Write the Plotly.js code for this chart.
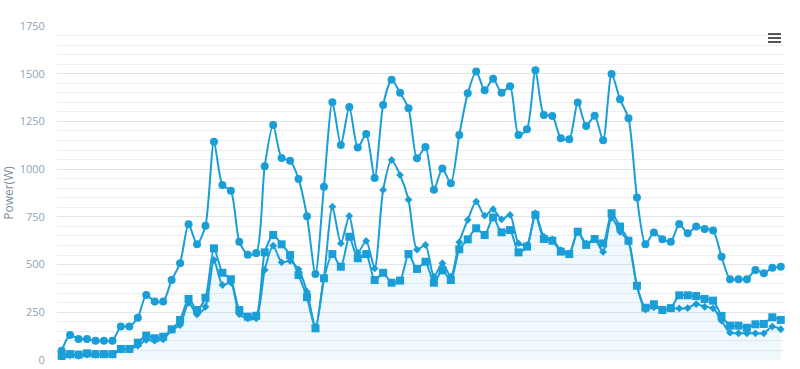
<!DOCTYPE html>
<html>
<head>
<meta charset="utf-8">
<script src="https://cdn.plot.ly/plotly-3.0.1.min.js"></script>
<style>html,body{margin:0;padding:0;background:#fff;}#chart{width:800px;height:369px;}</style>
</head>
<body>
<div id="chart"></div>
<script>
const seriesTop = [49,131,110,110,101,101,101,175,175,222,340,306,306,419,507,711,606,704,1144,917,887,620,552,560,1015,1231,1058,1044,948,753,451,908,1350,1127,1326,1113,1184,953,1336,1468,1400,1319,1057,1116,892,1004,926,1179,1397,1512,1413,1473,1400,1434,1179,1209,1518,1284,1279,1162,1156,1349,1226,1280,1151,1499,1366,1266,852,606,668,633,620,712,664,699,686,678,541,423,423,423,472,454,484,489];
const seriesMid = [4,25,22,28,28,28,28,55,55,75,105,101,108,157,183,300,239,279,524,393,405,240,218,218,472,599,512,519,475,358,175,430,803,611,755,562,624,480,891,1048,969,840,578,603,437,507,437,617,734,830,756,790,737,760,611,603,769,646,632,576,559,672,611,634,566,745,672,622,387,264,276,267,270,270,272,293,279,271,206,143,140,140,140,140,175,161];
const seriesLow = [26,31,28,35,31,31,31,58,58,91,128,114,122,161,210,320,262,326,585,457,423,262,227,232,564,655,606,550,445,329,166,428,555,489,646,533,555,419,457,405,416,555,477,515,405,470,419,580,632,690,655,747,669,681,564,594,760,634,625,568,555,672,603,634,611,769,699,625,389,274,292,262,272,339,339,335,320,311,231,180,180,169,187,189,224,210];
const yTicks = [0,250,500,750,1000,1250,1500,1750];
const yTitle = 'Power(W)';

const xs = seriesTop.map((_, i) => i);
const col = '#1a9ed8';
function tr(y, sym, size, fill) {
  const t = {
    x: xs, y: y, type: 'scatter', mode: 'lines+markers',
    line: {color: col, width: 2, shape: 'spline', smoothing: 0.7},
    marker: {symbol: sym, size: size, color: col},
    hoverinfo: 'y'
  };
  if (fill) { t.fill = 'tozeroy'; t.fillcolor = 'rgba(26,158,216,0.07)'; }
  return t;
}
const data = [
  tr(seriesTop, 'circle', 8, false),
  tr(seriesMid, 'diamond', 6, false),
  tr(seriesLow, 'square', 8, true)
];
// export-menu icon (three bars)
const bars = [[0.9790, 0.9731], [0.9671, 0.9611], [0.9551, 0.9491]].map(b => ({
  type: 'rect', xref: 'paper', yref: 'paper', x0: 0.9766, x1: 0.9945, y0: b[1], y1: b[0],
  fillcolor: '#555', line: {width: 0}
}));
const layout = {
  width: 800, height: 369,
  margin: {l: 57, r: 15, t: 26, b: 9},
  paper_bgcolor: '#fff', plot_bgcolor: '#fff',
  showlegend: false,
  xaxis: {range: [-0.55, 85.5], showgrid: false, zeroline: false, showticklabels: false, ticks: '', showline: false},
  yaxis: {
    range: [0, 1750], tickvals: yTicks, ticktext: yTicks.map(String),
    showgrid: true, gridcolor: '#e0e4e8', gridwidth: 1, zeroline: false,
    ticks: 'outside', ticklen: 9, tickcolor: 'rgba(0,0,0,0)',
    tickfont: {family: 'Open Sans, sans-serif', size: 11, color: '#8ea5b8'},
    minor: {dtick: 50, showgrid: true, gridcolor: '#eceef1', gridwidth: 1},
    title: {text: yTitle, font: {family: 'Open Sans, sans-serif', size: 12, color: '#7d8d9c'}, standoff: 8}
  },
  shapes: bars
};
Plotly.newPlot('chart', data, layout, {displayModeBar: false});
</script>
</body>
</html>
